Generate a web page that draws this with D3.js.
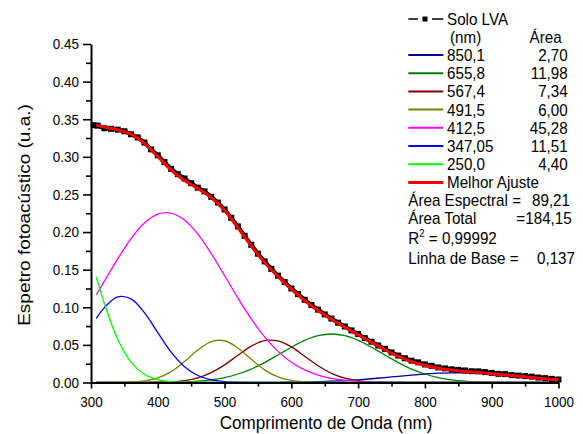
<!DOCTYPE html>
<html>
<head>
<meta charset="utf-8">
<script src="https://cdn.jsdelivr.net/npm/d3@7"></script>
<style>
  html, body { margin: 0; padding: 0; background: #fff; }
  svg { display: block; font-family: "Liberation Sans", Arial, sans-serif; }
</style>
</head>
<body>
<svg id="chart" width="583" height="434"></svg>
<script>
// Wavelength grid (nm) for the fitted Gaussian bands and the total fit
const bandNm = [308, 320, 340, 360, 380, 400, 420, 440, 460, 480, 500, 520, 540, 560, 580, 600, 620, 640,
                660, 680, 700, 720, 740, 760, 780, 800, 820, 840, 860, 880, 900, 920, 940, 960, 980, 1000];

// Individual bands (u.a.)
const band850 = [0, 0, 0, 0, 0, 0, 0, 0, 0, 0, 0, 0, 0.0001, 0.0001, 0.0002, 0.0004, 0.0007, 0.0011,
                 0.0017, 0.0025, 0.0036, 0.0050, 0.0066, 0.0082, 0.0099, 0.0113, 0.0124, 0.0129, 0.0129, 0.0124, 0.0113, 0.0099, 0.0082, 0.0066, 0.0050, 0.0036];
const band655 = [0, 0, 0, 0, 0.0001, 0.0002, 0.0004, 0.0009, 0.0018, 0.0036, 0.0066, 0.0113, 0.0179, 0.0265, 0.0365, 0.0468, 0.0559, 0.0622,
                 0.0645, 0.0622, 0.0559, 0.0468, 0.0365, 0.0265, 0.0179, 0.0113, 0.0066, 0.0036, 0.0018, 0.0009, 0.0004, 0.0002, 0.0001, 0, 0, 0];
const band567 = [0, 0, 0, 0, 0.0001, 0.0003, 0.0009, 0.0026, 0.0063, 0.0131, 0.0234, 0.0362, 0.0484, 0.0557, 0.0553, 0.0473, 0.0349, 0.0222,
                 0.0122, 0.0058, 0.0024, 0.0008, 0.0003, 0.0001, 0, 0, 0, 0, 0, 0, 0, 0, 0, 0, 0, 0];
const band491 = [0, 0, 0.0001, 0.0006, 0.0021, 0.0061, 0.0145, 0.0278, 0.0431, 0.0543, 0.0555, 0.0459, 0.0308, 0.0168, 0.0074, 0.0027, 0.0008, 0.0002,
                 0, 0, 0, 0, 0, 0, 0, 0, 0, 0, 0, 0, 0, 0, 0, 0, 0, 0];
const band412 = [0.1167, 0.1347, 0.1644, 0.1913, 0.2120, 0.2239, 0.2252, 0.2159, 0.1972, 0.1715, 0.1422, 0.1123, 0.0845, 0.0606, 0.0414, 0.0269, 0.0167, 0.0099,
                 0.0056, 0.0030, 0.0015, 0.0007, 0.0003, 0.0001, 0, 0, 0, 0, 0, 0, 0, 0, 0, 0, 0, 0];
const band347 = [0.0853, 0.0996, 0.1139, 0.1112, 0.0928, 0.0662, 0.0403, 0.0210, 0.0093, 0.0035, 0.0012, 0.0003, 0.0001, 0, 0, 0, 0, 0,
                 0, 0, 0, 0, 0, 0, 0, 0, 0, 0, 0, 0, 0, 0, 0, 0, 0, 0];
const band250 = [0.1405, 0.1052, 0.0575, 0.0270, 0.0109, 0.0038, 0.0011, 0.0003, 0.0001, 0, 0, 0, 0, 0, 0, 0, 0, 0,
                 0, 0, 0, 0, 0, 0, 0, 0, 0, 0, 0, 0, 0, 0, 0, 0, 0, 0];

// Best fit (u.a.)
const bestFit = [0.3425, 0.3395, 0.3359, 0.3301, 0.3180, 0.3005, 0.2824, 0.2685, 0.2578, 0.2460, 0.2289, 0.2060, 0.1818, 0.1597, 0.1408, 0.1241, 0.1090, 0.0956,
                 0.0840, 0.0735, 0.0634, 0.0533, 0.0437, 0.0349, 0.0278, 0.0226, 0.0190, 0.0165, 0.0147, 0.0133, 0.0117, 0.0101, 0.0083, 0.0066, 0.0050, 0.0036];

// Measured photoacoustic spectrum, Solo LVA
const soloNm = [304, 310, 320, 330, 340, 350, 360, 370, 380, 390, 400, 410, 420, 430, 440, 450, 460, 470, 480, 490,
                500, 510, 520, 530, 540, 550, 560, 570, 580, 590, 600, 610, 620, 630, 640, 650, 660, 670, 680, 690,
                700, 710, 720, 730, 740, 750, 760, 770, 780, 790, 800, 810, 820, 830, 840, 850, 860, 870, 880, 890,
                900, 910, 920, 930, 940, 950, 960, 970, 980, 990, 1000];
const soloLVA = [0.3420, 0.3415, 0.3380, 0.3372, 0.3362, 0.3340, 0.3300, 0.3258, 0.3190, 0.3100, 0.3020, 0.2930, 0.2840, 0.2770, 0.2712, 0.2650, 0.2590, 0.2540, 0.2468, 0.2392,
                 0.2300, 0.2190, 0.2075, 0.1950, 0.1830, 0.1712, 0.1610, 0.1510, 0.1420, 0.1335, 0.1250, 0.1175, 0.1100, 0.1030, 0.0968, 0.0905, 0.0850, 0.0795, 0.0745, 0.0692,
                 0.0645, 0.0590, 0.0542, 0.0492, 0.0448, 0.0400, 0.0358, 0.0322, 0.0290, 0.0268, 0.0240, 0.0222, 0.0200, 0.0188, 0.0175, 0.0168, 0.0160, 0.0150, 0.0148, 0.0138,
                 0.0128, 0.0115, 0.0112, 0.0098, 0.0092, 0.0085, 0.0078, 0.0066, 0.0058, 0.0048, 0.0040];

// Legend entries: band centre (nm), area, colour
const bandLabels = ["850,1", "655,8", "567,4", "491,5", "412,5", "347,05", "250,0"];
const bandAreas  = ["2,70", "11,98", "7,34", "6,00", "45,28", "11,51", "4,40"];
const bandColors = ["#00009c", "#008000", "#800000", "#808000", "#ff00ff", "#0000ff", "#00ff00"];
const bandSeries = [band850, band655, band567, band491, band412, band347, band250];

// Axis ticks
const xTicks = [300, 400, 500, 600, 700, 800, 900, 1000];
const xMinor = [350, 450, 550, 650, 750, 850, 950];
const yTicks = [0, 0.05, 0.10, 0.15, 0.20, 0.25, 0.30, 0.35, 0.40, 0.45];
const yMinor = [0.025, 0.075, 0.125, 0.175, 0.225, 0.275, 0.325, 0.375, 0.425];

const SX = 0.9;    // horizontal squeeze of axis lettering
const LSX = 0.95;  // horizontal squeeze of legend lettering
const FONT = '"Liberation Sans", Arial, sans-serif';

const svg = d3.select("#chart");
const x = d3.scaleLinear().domain([300, 1000]).range([91, 558.5]);
const y = d3.scaleLinear().domain([0, 0.45]).range([382.5, 44]);

function text(g, px, py, str, size, anchor, sx) {
  return g.append("text")
    .attr("transform", `translate(${px},${py}) scale(${sx || SX},1)`)
    .attr("font-size", size)
    .attr("font-family", FONT)
    .attr("text-anchor", anchor || "start")
    .attr("fill", "#000")
    .text(str);
}

const lineGen = d3.line()
  .x(d => x(d[0]))
  .y(d => y(d[1]))
  .curve(d3.curveCatmullRom.alpha(0.5));

// Bands
const plot = svg.append("g");
bandSeries.forEach((vals, i) => {
  plot.append("path")
    .datum(bandNm.map((n, k) => [n, vals[k]]))
    .attr("fill", "none")
    .attr("stroke", bandColors[i])
    .attr("stroke-width", 1.3)
    .attr("d", lineGen);
});

// Measured spectrum: line plus square markers
const soloPts = soloNm.map((n, k) => [n, soloLVA[k]]);
plot.append("path")
  .datum(soloPts)
  .attr("fill", "none")
  .attr("stroke", "#000")
  .attr("stroke-width", 4)
  .attr("d", d3.line().x(d => x(d[0])).y(d => y(d[1])));
plot.selectAll("rect.solo")
  .data(soloPts)
  .join("rect")
  .attr("class", "solo")
  .attr("x", d => x(d[0]) - 3)
  .attr("y", d => y(d[1]) - 3)
  .attr("width", 6)
  .attr("height", 6)
  .attr("fill", "#000");

// Best fit
plot.append("path")
  .datum(bandNm.map((n, k) => [n, bestFit[k]]))
  .attr("fill", "none")
  .attr("stroke", "#ff0000")
  .attr("stroke-width", 3)
  .attr("d", lineGen);

// Axes
const xAxis = svg.append("g").attr("transform", "translate(0,382.5)")
  .call(d3.axisBottom(x).tickValues(xTicks).tickSize(6).tickSizeOuter(0).tickFormat(d3.format("d")));
svg.append("g").attr("transform", "translate(0,382.5)")
  .call(d3.axisBottom(x).tickValues(xMinor).tickSize(4).tickSizeOuter(0).tickFormat(""))
  .select(".domain").remove();
const yAxis = svg.append("g").attr("transform", "translate(91,0)")
  .call(d3.axisLeft(y).tickValues(yTicks).tickSize(8).tickSizeOuter(0).tickFormat(d3.format(".2f")));
svg.append("g").attr("transform", "translate(91,0)")
  .call(d3.axisLeft(y).tickValues(yMinor).tickSize(5).tickSizeOuter(0).tickFormat(""))
  .select(".domain").remove();

svg.selectAll(".domain").attr("stroke", "#000").attr("stroke-width", 2);
svg.selectAll(".tick line").attr("stroke", "#000").attr("stroke-width", 1.6);

xAxis.selectAll(".tick text")
  .attr("y", null).attr("dy", null)
  .attr("transform", `translate(0,24) scale(${SX},1)`)
  .attr("font-size", 15).attr("font-family", FONT).attr("fill", "#000");
yAxis.selectAll(".tick text")
  .attr("x", null)
  .attr("transform", `translate(-12,0) scale(${SX},1)`)
  .attr("font-size", 15).attr("font-family", FONT).attr("fill", "#000");

// Axis titles
text(svg, 326, 429, "Comprimento de Onda (nm)", 19, "middle");
svg.append("text")
  .attr("transform", `translate(30,215) scale(${SX},1) rotate(-90)`)
  .attr("font-size", 19)
  .attr("font-family", FONT)
  .attr("text-anchor", "middle")
  .text("Espetro fotoacústico (u.a.)");

// Legend
const leg = svg.append("g");
const LX0 = 408.3, LX1 = 443.3, TX = 447, VX = 567.7, LFS = 16;

leg.append("line").attr("x1", LX0).attr("x2", 418).attr("y1", 19).attr("y2", 19).attr("stroke", "#000").attr("stroke-width", 1.5);
leg.append("line").attr("x1", 432).attr("x2", LX1).attr("y1", 19).attr("y2", 19).attr("stroke", "#000").attr("stroke-width", 1.5);
leg.append("rect").attr("x", 422.5).attr("y", 16.5).attr("width", 5).attr("height", 5).attr("fill", "#000");
text(leg, TX, 25, "Solo LVA", LFS, "start", LSX);

text(leg, 450, 43.3, "(nm)", LFS, "start", LSX);
text(leg, 561.7, 43.3, "Área", LFS, "end", LSX);

const rowY = d3.range(8).map(i => 55 + i * 18.2);
bandLabels.forEach((lab, i) => {
  leg.append("line").attr("x1", LX0).attr("x2", LX1).attr("y1", rowY[i]).attr("y2", rowY[i])
    .attr("stroke", bandColors[i]).attr("stroke-width", 2);
  text(leg, TX, rowY[i] + 6, lab, LFS, "start", LSX);
  text(leg, VX, rowY[i] + 6, bandAreas[i], LFS, "end", LSX);
});
leg.append("line").attr("x1", LX0).attr("x2", LX1).attr("y1", rowY[7]).attr("y2", rowY[7])
  .attr("stroke", "#ff0000").attr("stroke-width", 3);
text(leg, TX, rowY[7] + 6, "Melhor Ajuste", LFS, "start", LSX);

text(leg, LX0, 206, "Área Espectral =", LFS, "start", LSX);
text(leg, 570, 206, "89,21", LFS, "end", LSX);
text(leg, LX0, 224, "Área Total", LFS, "start", LSX);
text(leg, 571.7, 224, "=184,15", LFS, "end", LSX);

const r2 = text(leg, LX0, 243.5, "R", LFS, "start", LSX);
r2.append("tspan").attr("font-size", 10).attr("dy", -7).text("2");
r2.append("tspan").attr("dy", 7).text(" = 0,99992");

text(leg, LX0, 263.5, "Linha de Base  =", LFS, "start", LSX);
text(leg, 575, 263.5, "0,137", LFS, "end", LSX);
</script>
</body>
</html>
